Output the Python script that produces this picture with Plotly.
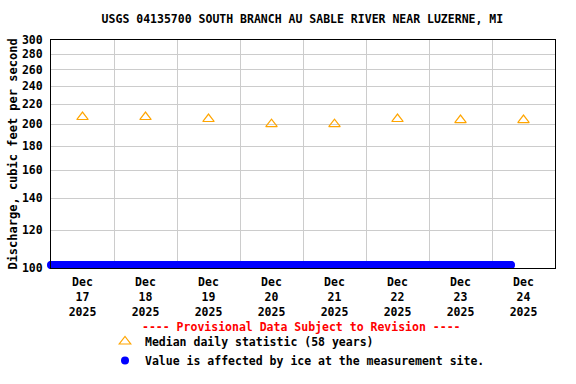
import pandas as pd
import plotly.graph_objects as go

# ---- data ----
median_dates = ["2025-12-17 12:00", "2025-12-18 12:00", "2025-12-19 12:00", "2025-12-20 12:00",
                "2025-12-21 12:00", "2025-12-22 12:00", "2025-12-23 12:00", "2025-12-24 12:00"]
median_values = [207, 207, 205, 200, 200, 205, 204, 204]

ice_start = "2025-12-17 00:00"
ice_end = "2025-12-24 07:15"
ice_level = 101.5  # ice-affected values are plotted along the bottom of the chart

tick_dates = median_dates
tick_labels = ["Dec<br>17<br>2025", "Dec<br>18<br>2025", "Dec<br>19<br>2025", "Dec<br>20<br>2025",
               "Dec<br>21<br>2025", "Dec<br>22<br>2025", "Dec<br>23<br>2025", "Dec<br>24<br>2025"]
y_ticks = [100, 120, 140, 160, 180, 200, 220, 240, 260, 280, 300]

ice_times = pd.date_range(ice_start, ice_end, freq="15min")
ice_values = [ice_level] * len(ice_times)

FONT = "DejaVu Sans Mono"

fig = go.Figure()
fig.add_trace(go.Scatter(
    x=median_dates, y=median_values, mode="markers",
    marker=dict(symbol="triangle-up-open", size=10, color="#FFA500", line=dict(width=1.2, color="#FFA500")),
    name="<b>Median daily statistic (58 years)</b>", cliponaxis=False))
fig.add_trace(go.Scatter(
    x=ice_times, y=ice_values, mode="markers",
    marker=dict(symbol="circle", size=8, color="#0000FF", line=dict(width=0)),
    name="<b>Value is affected by ice at the measurement site.</b>", cliponaxis=False))

fig.update_layout(
    width=576, height=384,
    margin=dict(l=51, r=21, t=40, b=116, autoexpand=False),
    paper_bgcolor="white", plot_bgcolor="white",
    font=dict(family=FONT, size=11.5, color="black"),
    title=dict(text="<b>USGS 04135700 SOUTH BRANCH AU SABLE RIVER NEAR LUZERNE, MI</b>",
               x=0.525, xanchor="center", xref="container",
               y=1 - 19 / 384, yanchor="middle", yref="container",
               font=dict(family=FONT, size=11.5, color="black")),
    showlegend=True,
    legend=dict(orientation="v", x=(105 - 51) / 504, xanchor="left",
                y=-(327 - 268) / 228, yanchor="top",
                font=dict(family=FONT, size=11.5, color="black"),
                bgcolor="rgba(0,0,0,0)", itemwidth=30, tracegroupgap=0),
)

fig.update_xaxes(
    type="date", range=["2025-12-17 00:00", "2025-12-25 00:00"], automargin=False,
    tickmode="array", tickvals=tick_dates, ticktext=["<b>" + t.replace("<br>", "</b><br><b>") + "</b>" for t in tick_labels],
    ticks="", showgrid=False, showline=True, linecolor="black", linewidth=1, mirror=True,
    tickfont=dict(family=FONT, size=11.5, color="black"), ticklabelstandoff=3,
    minor=dict(dtick=86400000, tick0="2025-12-17 00:00", showgrid=True, gridcolor="#cccccc", gridwidth=1, ticks=""),
    zeroline=False,
)
fig.update_yaxes(
    type="log", range=[2, 2.4771213], automargin=False, tickmode="array", tickvals=y_ticks,
    ticktext=["<b>%d</b>" % v for v in y_ticks], ticks="",
    showgrid=True, gridcolor="#cccccc", gridwidth=1,
    showline=True, linecolor="black", linewidth=1, mirror=True,
    tickfont=dict(family=FONT, size=11.5, color="black"), ticklabelstandoff=5,
    title=dict(text="<b>Discharge, cubic feet per second</b>", standoff=1,
               font=dict(family=FONT, size=12, color="black")),
    zeroline=False,
)

fig.add_annotation(text="<b>---- Provisional Data Subject to Revision ----</b>",
                   xref="paper", yref="paper", x=(301 - 51) / 504, y=-(327 - 268) / 228,
                   xanchor="center", yanchor="middle", showarrow=False,
                   font=dict(family=FONT, size=11.5, color="#FF0000"))

fig.write_html("out.html", config={"displayModeBar": False},
               post_script="document.body.style.margin='0';")
